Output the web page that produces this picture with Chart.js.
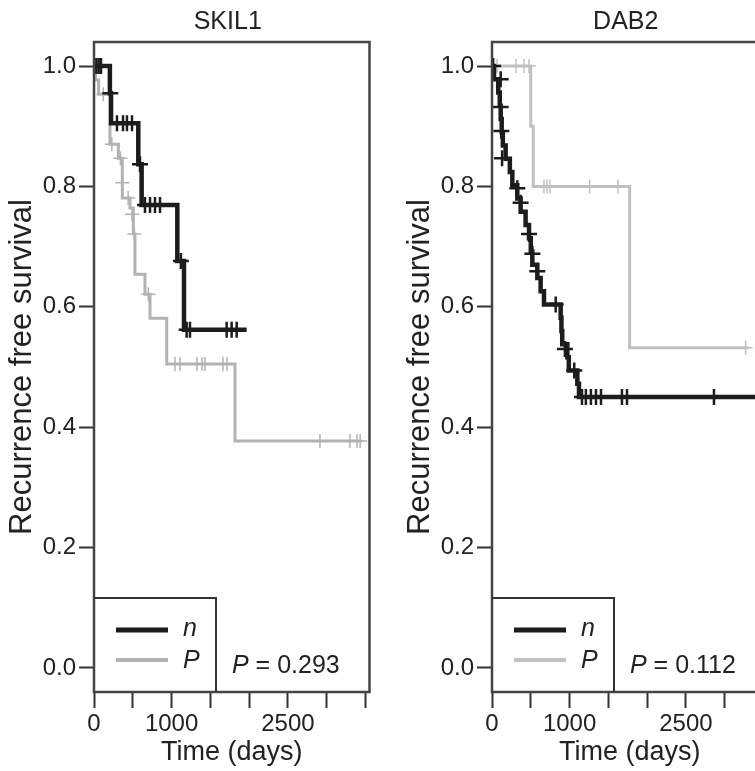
<!DOCTYPE html>
<html>
<head>
<meta charset="utf-8">
<script src="https://cdn.jsdelivr.net/npm/chart.js@4.4.1/dist/chart.umd.min.js"></script>
<style>
html, body { margin: 0; padding: 0; background: #fff; }
body { width: 755px; height: 771px; overflow: hidden; position: relative; }
canvas { position: absolute; top: 0; }
#left { left: 0; }
#right { left: 398px; }
</style>
</head>
<body>
<canvas id="left" width="380" height="771"></canvas>
<canvas id="right" width="380" height="771"></canvas>
<script>
var panelTitles = ["SKIL1", "DAB2"];
var pValues = ["0.293", "0.112"];
var groupNames = ["n", "P"];
var yTicks = [0, 0.2, 0.4, 0.6, 0.8, 1.0];
var xTicks = [0, 500, 1000, 1500, 2000, 2500, 3000, 3500];
var xLabelled = [0, 1000, 2500];

// SKIL1 - group n (black)
var skilNTime = [0, 205, 220, 571, 614, 1074, 1160, 1968];
var skilNSurv = [1.0, 0.955, 0.905, 0.837, 0.769, 0.676, 0.562, 0.562];
var skilNCensTime = [30, 60, 90, 210, 296, 374, 425, 490, 593, 657, 722, 786, 851, 1120, 1194, 1237, 1710, 1774, 1839];
var skilNCensSurv = [1.0, 1.0, 1.0, 0.955, 0.905, 0.905, 0.905, 0.905, 0.837, 0.769, 0.769, 0.769, 0.769, 0.676, 0.562, 0.562, 0.562, 0.562, 0.562];

// SKIL1 - group P (grey)
var skilPTime = [0, 20, 60, 206, 314, 365, 464, 507, 528, 657, 722, 937, 1817, 3454];
var skilPSurv = [1.0, 0.977, 0.953, 0.870, 0.847, 0.781, 0.764, 0.721, 0.654, 0.621, 0.581, 0.505, 0.377, 0.377];
var skilPCensTime = [120, 230, 340, 365, 440, 490, 520, 700, 1044, 1108, 1327, 1392, 1430, 1662, 1714, 2912, 3299, 3389, 3430];
var skilPCensSurv = [0.953, 0.870, 0.847, 0.806, 0.781, 0.754, 0.721, 0.621, 0.505, 0.505, 0.505, 0.505, 0.505, 0.505, 0.505, 0.377, 0.377, 0.377, 0.377];

// DAB2 - group n (black)
var dabNTime = [0, 26, 80, 100, 112, 125, 140, 176, 230, 262, 326, 369, 433, 477, 500, 520, 584, 627, 670, 885, 895, 905, 971, 990, 1100, 1121, 3520];
var dabNSurv = [1.0, 0.978, 0.956, 0.934, 0.912, 0.890, 0.868, 0.846, 0.824, 0.802, 0.780, 0.758, 0.736, 0.714, 0.692, 0.670, 0.648, 0.626, 0.604, 0.582, 0.560, 0.538, 0.516, 0.494, 0.472, 0.450, 0.450];
var dabNCensTime = [15, 112, 112, 120, 130, 326, 369, 477, 520, 584, 821, 940, 1060, 1160, 1210, 1275, 1340, 1405, 1675, 1740, 2861];
var dabNCensSurv = [1.0, 0.978, 0.932, 0.892, 0.847, 0.797, 0.773, 0.721, 0.688, 0.659, 0.604, 0.530, 0.494, 0.450, 0.450, 0.450, 0.450, 0.450, 0.450, 0.450, 0.450];

// DAB2 - group P (grey)
var dabPTime = [0, 499, 532, 1774, 3310];
var dabPSurv = [1.0, 0.90, 0.80, 0.532, 0.532];
var dabPCensTime = [65, 309, 412, 477, 670, 709, 747, 1259, 1624, 3269];
var dabPCensSurv = [1.0, 1.0, 1.0, 1.0, 0.80, 0.80, 0.80, 0.80, 0.80, 0.532];

var FONT = '"Liberation Sans", Arial, Helvetica, sans-serif';
Chart.defaults.font.family = FONT;
Chart.defaults.color = '#222';

function pts(ts, ss) {
  return ts.map(function (t, i) { return { x: t, y: ss[i] }; });
}

var kmDecor = {
  id: 'kmDecor',
  afterDraw: function (chart, args, o) {
    var ctx = chart.ctx, a = chart.chartArea;
    ctx.save();
    // panel title
    ctx.fillStyle = '#222';
    ctx.font = '25px ' + FONT;
    ctx.textAlign = 'center';
    ctx.textBaseline = 'middle';
    ctx.fillText(o.title, (a.left + a.right) / 2 - 4, 22);
    // frame
    ctx.strokeStyle = '#444';
    ctx.lineWidth = 2.5;
    ctx.strokeRect(a.left, a.top, a.right - a.left, a.bottom - a.top);
    // legend box
    var lx = a.left, ly = a.bottom - 94;
    ctx.lineWidth = 2;
    ctx.strokeStyle = '#333';
    ctx.beginPath();
    ctx.moveTo(lx, ly);
    ctx.lineTo(lx + 122, ly);
    ctx.lineTo(lx + 122, a.bottom);
    ctx.stroke();
    ctx.lineCap = 'butt';
    ctx.strokeStyle = o.nColor;
    ctx.lineWidth = 5;
    ctx.beginPath(); ctx.moveTo(lx + 22, a.bottom - 62); ctx.lineTo(lx + 74, a.bottom - 62); ctx.stroke();
    ctx.strokeStyle = o.pColor;
    ctx.lineWidth = 4;
    ctx.beginPath(); ctx.moveTo(lx + 22, a.bottom - 32); ctx.lineTo(lx + 74, a.bottom - 32); ctx.stroke();
    ctx.fillStyle = '#222';
    ctx.textAlign = 'left';
    ctx.font = 'italic 25px ' + FONT;
    ctx.fillText(groupNames[0], lx + 89, a.bottom - 63);
    ctx.fillText(groupNames[1], lx + 89, a.bottom - 31);
    // p-value
    var px = lx + 138, py = a.bottom - 26;
    ctx.fillText('P', px, py);
    var w = ctx.measureText('P').width;
    ctx.font = '25px ' + FONT;
    ctx.fillText(' = ' + o.p, px + w, py);
    ctx.restore();
  }
};

function makeChart(id, idx, nT, nS, nCT, nCS, pT, pS, pCT, pCS, pColor) {
  var nColor = '#1c1c1c';
  return new Chart(document.getElementById(id), {
    type: 'scatter',
    data: {
      datasets: [
        { data: pts(nT, nS), showLine: true, stepped: true, borderColor: nColor, borderWidth: 4.5, pointRadius: 0, fill: false },
        { data: pts(nCT, nCS), showLine: false, pointStyle: 'cross', pointRadius: 8, pointBorderColor: nColor, pointBorderWidth: 2.5, borderColor: nColor },
        { data: pts(pT, pS), showLine: true, stepped: true, borderColor: pColor, borderWidth: 3, pointRadius: 0, fill: false },
        { data: pts(pCT, pCS), showLine: false, pointStyle: 'cross', pointRadius: 7, pointBorderColor: pColor, pointBorderWidth: 1.5, borderColor: pColor }
      ]
    },
    options: {
      responsive: false,
      animation: false,
      devicePixelRatio: 1,
      layout: { padding: { top: 42, right: 9, left: 0, bottom: 0 } },
      plugins: {
        legend: { display: false },
        tooltip: { enabled: false },
        kmDecor: { title: panelTitles[idx], p: pValues[idx], nColor: nColor, pColor: pColor }
      },
      scales: {
        x: {
          type: 'linear', min: 0, max: 3551,
          afterBuildTicks: function (s) { s.ticks = xTicks.map(function (v) { return { value: v }; }); },
          afterFit: function (s) { s.height = 79; },
          grid: { display: true, drawOnChartArea: false, drawTicks: true, tickLength: 16, tickWidth: 2, tickColor: '#333' },
          border: { display: false },
          ticks: {
            autoSkip: false, maxRotation: 0, padding: 2, color: '#222', font: { size: 24 },
            callback: function (v) { return xLabelled.indexOf(v) >= 0 ? String(v) : ''; }
          },
          title: { display: true, text: 'Time (days)', color: '#222', font: { size: 27 }, padding: { top: 0, bottom: 2 } }
        },
        y: {
          type: 'linear', min: -0.04, max: 1.04,
          afterBuildTicks: function (s) { s.ticks = yTicks.map(function (v) { return { value: v }; }); },
          afterFit: function (s) { s.width = 94; },
          grid: { display: true, drawOnChartArea: false, drawTicks: true, tickLength: 15, tickWidth: 2, tickColor: '#333' },
          border: { display: false },
          ticks: { padding: 3, color: '#222', font: { size: 24 }, callback: function (v) { return v.toFixed(1); } },
          title: { display: true, text: 'Recurrence free survival', color: '#222', font: { size: 31 }, padding: { top: 4, bottom: 0 } }
        }
      }
    },
    plugins: [kmDecor]
  });
}

makeChart('left', 0, skilNTime, skilNSurv, skilNCensTime, skilNCensSurv,
  skilPTime, skilPSurv, skilPCensTime, skilPCensSurv, '#b2b2b2');
makeChart('right', 1, dabNTime, dabNSurv, dabNCensTime, dabNCensSurv,
  dabPTime, dabPSurv, dabPCensTime, dabPCensSurv, '#c0c0c0');
</script>
</body>
</html>
